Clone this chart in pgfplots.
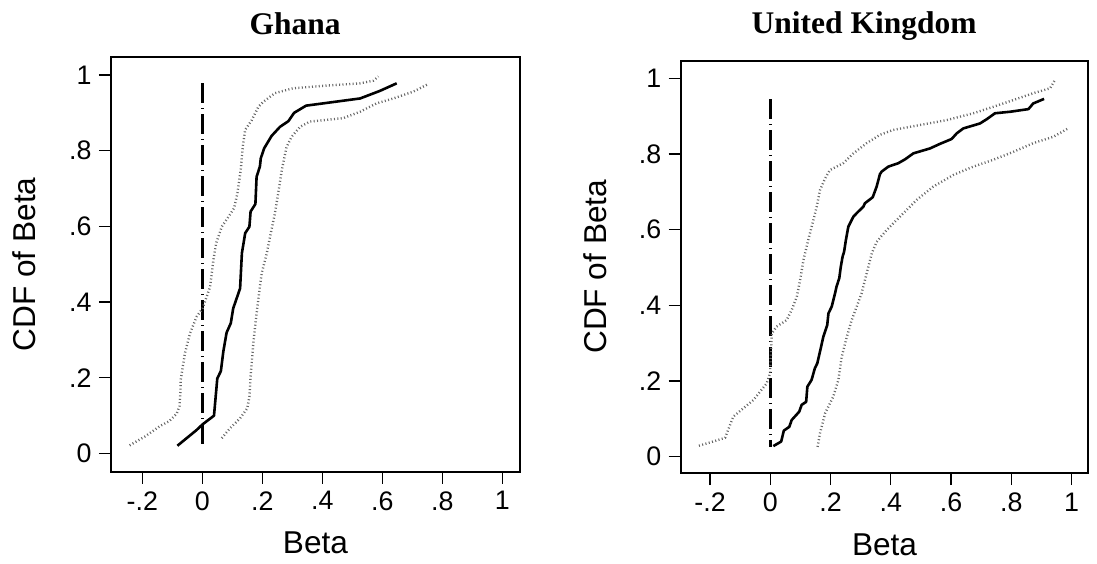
\documentclass[border=0pt]{standalone}
\usepackage{pgfplots}
\pgfplotsset{compat=1.18}
\usepackage{fontspec}
\setmainfont{Liberation Sans}
\newfontfamily\titlefont{Liberation Serif}

\pgfplotsset{
  cdfpanel/.style={
    scale only axis,
    anchor=south west,
    axis line style={line width=1pt},
    tick style={line width=0.7pt, black},
    tick align=outside,
    major tick length=6pt,
    xtick pos=bottom, ytick pos=left,
    xtick={-0.2,0,0.2,0.4,0.6,0.8,1},
    xticklabels={-.2,0,.2,.4,.6,.8,1},
    ytick={0,0.2,0.4,0.6,0.8,1},
    yticklabels={0,.2,.4,.6,.8,1},
    tick label style={font=\fontsize{13.4}{15}\selectfont},
    xticklabel style={anchor=north, inner sep=0pt, yshift=-3.7pt},
    yticklabel style={anchor=east, inner sep=0pt, xshift=-3.5pt},
    label style={font=\fontsize{15.8}{18}\selectfont},
    xlabel={Beta}, ylabel={CDF of Beta},
    every axis title/.style={font=\titlefont\bfseries\fontsize{15.75}{18}\selectfont, anchor=base, inner sep=0pt},
    every axis plot/.append style={line join=round},
  },
  mainline/.style={black, line width=1.3pt},
  band/.style={black!60, line width=1.2pt, dash pattern=on 0.5pt off 1.2pt},
  zeroline/.style={black, line width=1.3pt, dash pattern=on 10pt off 2.5pt on 0.5pt off 2.5pt},
}

\begin{document}
\begin{tikzpicture}
\useasboundingbox (0,0) rectangle (548.5pt,281.5pt);

% ---------------- Ghana ----------------
\begin{axis}[cdfpanel,
  at={(55.5pt,45.65pt)}, width=204.5pt, height=207.2pt,
  xmin=-0.3043, xmax=1.059, ymin=-0.0486, ymax=1.0468,
  title={Ghana},
  title style={at={([yshift=11.15pt]axis description cs:0.45,1)}},
  xlabel style={at={([yshift=-40.65pt]axis description cs:0.5,0)}, anchor=base, inner sep=0pt},
  ylabel style={at={([xshift=-37.75pt]axis description cs:0,0.5)}, anchor=base, inner sep=0pt},
]
\addplot[zeroline] coordinates {(0,0.978) (0,0.020)};
\addplot[band] coordinates {
(-0.242,0.021) (-0.19,0.045) (-0.141,0.072) (-0.11,0.085) (-0.085,0.105) (-0.076,0.125)
(-0.073,0.16) (-0.072,0.194) (-0.058,0.264) (-0.041,0.317) (-0.019,0.361)
(0.001,0.383) (0.026,0.440) (0.037,0.511) (0.046,0.555) (0.065,0.599)
(0.087,0.625) (0.106,0.648) (0.117,0.687) (0.128,0.749) (0.135,0.811)
(0.143,0.855) (0.165,0.881) (0.187,0.916) (0.203,0.929) (0.242,0.952)
(0.303,0.965) (0.415,0.972) (0.526,0.978) (0.570,0.985) (0.587,0.996)
};
\addplot[band] coordinates {
(0.065,0.040) (0.092,0.066) (0.126,0.0925) (0.150,0.119) (0.157,0.150)
(0.161,0.2025) (0.170,0.291) (0.181,0.370) (0.192,0.440) (0.198,0.476)
(0.215,0.529) (0.226,0.573) (0.242,0.634) (0.253,0.687) (0.265,0.749)
(0.281,0.810) (0.298,0.837) (0.326,0.863) (0.359,0.877) (0.470,0.886)
(0.526,0.903) (0.581,0.925) (0.637,0.938) (0.703,0.956) (0.753,0.976)
};
\addplot[mainline] coordinates {
(-0.083,0.020) (-0.019,0.0616) (0.001,0.0766) (0.039,0.0995) (0.050,0.198)
(0.062,0.2175) (0.070,0.2686) (0.081,0.319) (0.095,0.344) (0.103,0.383)
(0.126,0.436) (0.132,0.529) (0.143,0.582) (0.157,0.599) (0.161,0.639)
(0.177,0.659) (0.181,0.731) (0.192,0.758) (0.195,0.780) (0.206,0.806)
(0.231,0.839) (0.259,0.863) (0.287,0.878) (0.306,0.900) (0.346,0.919)
(0.526,0.938) (0.592,0.958) (0.648,0.978)
};
\end{axis}

% ---------------- United Kingdom ----------------
\begin{axis}[cdfpanel,
  at={(340.35pt,45pt)}, width=203.8pt, height=206.15pt,
  xmin=-0.2975, xmax=1.0558, ymin=-0.0431, ymax=1.047,
  title={United Kingdom},
  title style={at={([yshift=13.4pt]axis description cs:0.45,1)}},
  xlabel style={at={([yshift=-41.3pt]axis description cs:0.5,0)}, anchor=base, inner sep=0pt},
  ylabel style={at={([xshift=-37.35pt]axis description cs:0,0.5)}, anchor=base, inner sep=0pt},
]
\addplot[zeroline] coordinates {(0,0.945) (0,0.026)};
\addplot[band] coordinates {
(-0.237,0.029) (-0.190,0.040) (-0.150,0.050) (-0.123,0.106) (-0.056,0.150)
(-0.012,0.194) (-0.001,0.220) (0.005,0.326) (0.021,0.344) (0.054,0.361)
(0.071,0.388) (0.088,0.423) (0.099,0.467) (0.110,0.520) (0.126,0.573)
(0.143,0.626) (0.154,0.661) (0.165,0.705) (0.182,0.736) (0.198,0.758)
(0.242,0.776) (0.276,0.802) (0.320,0.829) (0.364,0.851) (0.408,0.864)
(0.497,0.877) (0.586,0.890) (0.674,0.908) (0.740,0.925) (0.807,0.943)
(0.873,0.961) (0.929,0.974) (0.945,0.996)
};
\addplot[band] coordinates {
(0.157,0.026) (0.165,0.062) (0.182,0.115) (0.209,0.159) (0.226,0.203)
(0.237,0.264) (0.254,0.317) (0.270,0.361) (0.287,0.397) (0.303,0.432)
(0.320,0.485) (0.337,0.538) (0.353,0.568) (0.386,0.599) (0.431,0.635)
(0.486,0.679) (0.541,0.714) (0.608,0.745) (0.674,0.767) (0.740,0.785)
(0.807,0.806) (0.873,0.829) (0.940,0.846) (0.989,0.868)
};
\addplot[mainline] coordinates {
(0.010,0.028) (0.036,0.040) (0.045,0.069) (0.063,0.079) (0.071,0.097)
(0.096,0.119) (0.104,0.137) (0.119,0.145) (0.123,0.185) (0.137,0.203)
(0.148,0.234) (0.156,0.247) (0.165,0.278) (0.176,0.317) (0.189,0.348)
(0.193,0.379) (0.204,0.397) (0.215,0.432) (0.220,0.450) (0.229,0.472)
(0.234,0.502) (0.240,0.529) (0.245,0.542) (0.251,0.573) (0.259,0.608)
(0.276,0.635) (0.292,0.648) (0.309,0.661) (0.314,0.670) (0.340,0.686)
(0.353,0.714) (0.364,0.747) (0.370,0.754) (0.392,0.767) (0.425,0.776)
(0.447,0.786) (0.475,0.802) (0.530,0.815) (0.563,0.827) (0.602,0.840)
(0.619,0.855) (0.641,0.868) (0.696,0.881) (0.718,0.892) (0.746,0.908)
(0.796,0.912) (0.857,0.919) (0.873,0.934) (0.909,0.946)
};
\end{axis}
\end{tikzpicture}
\end{document}
